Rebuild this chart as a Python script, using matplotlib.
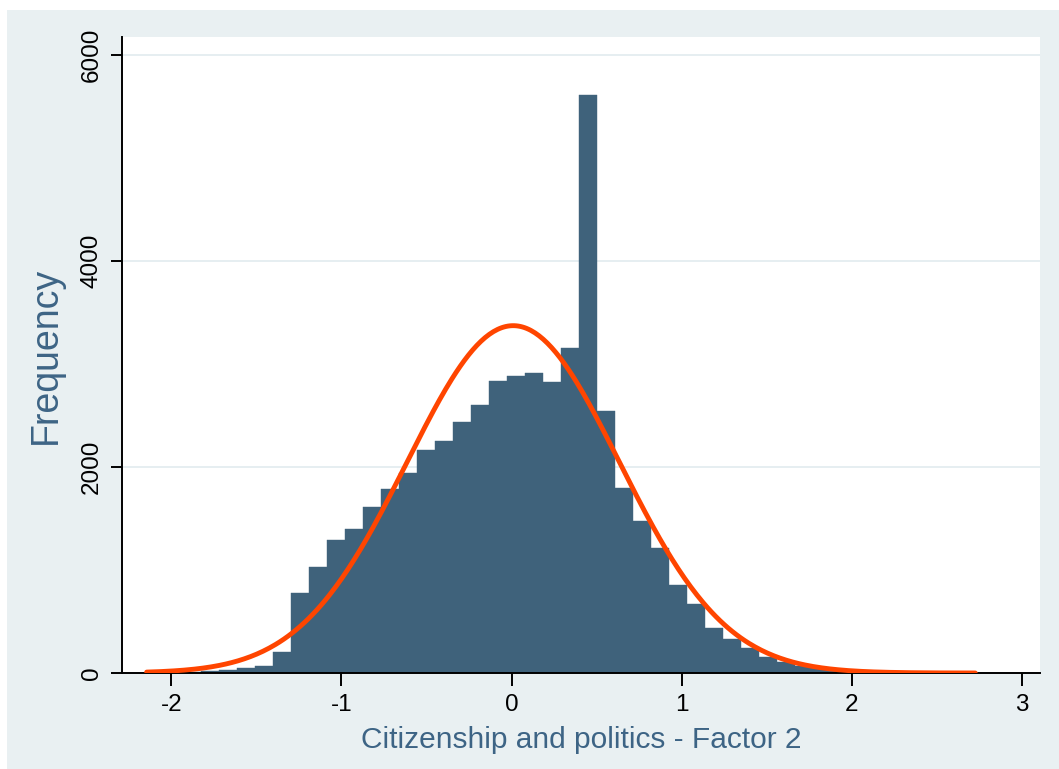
import numpy as np
import matplotlib.pyplot as plt
from matplotlib.patches import Rectangle

# histogram bins (46 bins)
bin_start = -2.145
bin_width = 0.1059
counts = [3, 5, 10, 18, 30, 45, 70, 207, 774, 1032,
          1291, 1398, 1608, 1786, 1939, 2165, 2256, 2434, 2602, 2835,
          2880, 2913, 2828, 3158, 5612, 2544, 1799, 1476, 1210, 854,
          667, 434, 330, 240, 158, 110, 68, 40, 25, 15,
          8, 5, 3, 2, 1, 1]

# normal overlay parameters
mu = 0.01
sigma = 0.625

xticks = [-2, -1, 0, 1, 2, 3]
yticks = [0, 2000, 4000, 6000]

bar_color = "#3f627b"
curve_color = "#ff4500"
title_color = "#3d6485"
bg = "#e9f0f2"

plt.rcParams['font.family'] = ['Liberation Sans', 'DejaVu Sans']

fig = plt.figure(figsize=(10.59, 7.69), dpi=100)
fig.patch.set_facecolor("white")
fig.patches.append(Rectangle((7 / 1059, 0), 1, 1 - 10 / 769, transform=fig.transFigure,
                             facecolor=bg, edgecolor="none", zorder=-10))

ax = fig.add_axes([122 / 1059, 1 - 673 / 769, (1040 - 122) / 1059, (673 - 37) / 769])
ax.set_zorder(1)
ax.set_facecolor("white")

edges = bin_start + bin_width * np.arange(len(counts) + 1)
ax.bar(edges[:-1], counts, width=bin_width, align="edge", color=bar_color,
       edgecolor=bar_color, linewidth=0.3, zorder=2)

n = sum(counts)
xs = np.linspace(edges[0], edges[-1], 400)
ys = n * bin_width / (sigma * np.sqrt(2 * np.pi)) * np.exp(-0.5 * ((xs - mu) / sigma) ** 2)
ax.plot(xs, ys, color=curve_color, lw=3.5, zorder=3, solid_capstyle="round")

ax.set_xlim(-2.29, 3.107)
ax.set_ylim(0, 6175)
ax.set_xticks(xticks)
ax.set_xticklabels([str(t) for t in xticks])
ax.set_yticks(yticks)
ax.set_yticklabels([str(t) for t in yticks], rotation=90, va="center")

ax.grid(axis="y", color="#e4edf0", lw=1.3, zorder=1)
ax.set_axisbelow(True)

for s in ["top", "right"]:
    ax.spines[s].set_visible(False)
for s in ["left", "bottom"]:
    ax.spines[s].set_linewidth(1.4)
    ax.spines[s].set_color("black")

ax.tick_params(axis="x", length=9, width=1.4, labelsize=17.5, pad=6)
ax.tick_params(axis="y", length=8, width=1.4, labelsize=17.5, pad=6)

ax.set_xlabel("Citizenship and politics - Factor 2", fontsize=21.5, color=title_color, labelpad=7)
ax.set_ylabel("Frequency", fontsize=27, color=title_color, labelpad=12)

fig.savefig("out.png", dpi=100, facecolor=fig.get_facecolor())
